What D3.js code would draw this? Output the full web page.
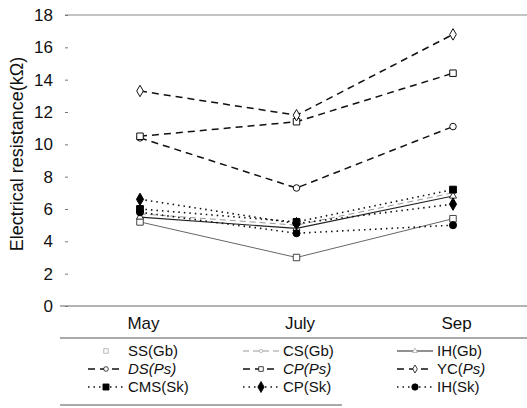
<!DOCTYPE html>
<html><head><meta charset="utf-8">
<script src="https://cdn.jsdelivr.net/npm/d3@7"></script>
<style>body{margin:0;background:#fff}svg{display:block}text{font-family:"Liberation Sans",Arial,sans-serif;fill:#111}</style>
</head><body>
<svg id="c" width="527" height="408"></svg>
<script>
const months = ["May", "July", "Sep"];
const yTicks = [0, 2, 4, 6, 8, 10, 12, 14, 16, 18];
const seriesNames = ["SS(Gb)", "CS(Gb)", "IH(Gb)", "DS(Ps)", "CP(Ps)", "YC(Ps)", "CMS(Sk)", "CP(Sk)", "IH(Sk)"];
const ssGb  = [5.2, 3.0, 5.4];
const csGb  = [5.7, 5.0, 7.0];
const ihGb  = [5.5, 4.8, 6.8];
const dsPs  = [10.4, 7.3, 11.1];
const cpPs  = [10.5, 11.4, 14.4];
const ycPs  = [13.3, 11.8, 16.8];
const cmsSk = [6.0, 5.2, 7.2];
const cpSk  = [6.6, 5.1, 6.3];
const ihSk  = [5.8, 4.5, 5.0];
const seriesValues = [ssGb, csGb, ihGb, dsPs, cpPs, ycPs, cmsSk, cpSk, ihSk];

const styles = [
  {stroke:"#555", dash:null, w:0.9, sym:d3.symbolSquare, size:42, fill:"#fff", mstroke:"#444"},
  {stroke:"#999", dash:"6,4", w:1, sym:d3.symbolCircle, size:16, fill:"#fff", mstroke:"#999"},
  {stroke:"#222", dash:null, w:1.1, sym:d3.symbolTriangle, size:22, fill:"#fff", mstroke:"#333"},
  {stroke:"#111", dash:"7,5", w:1.5, sym:d3.symbolCircle, size:34, fill:"#fff", mstroke:"#111"},
  {stroke:"#111", dash:"7,5", w:1.5, sym:d3.symbolSquare, size:42, fill:"#fff", mstroke:"#111"},
  {stroke:"#111", dash:"7,5", w:1.5, sym:d3.symbolDiamond, size:38, fill:"#fff", mstroke:"#111"},
  {stroke:"#111", dash:"1.5,4", w:1.6, sym:d3.symbolSquare, size:46, fill:"#000", mstroke:"#000"},
  {stroke:"#111", dash:"1.5,4", w:1.6, sym:d3.symbolDiamond, size:44, fill:"#000", mstroke:"#000"},
  {stroke:"#111", dash:"1.5,4", w:1.6, sym:d3.symbolCircle, size:40, fill:"#000", mstroke:"#000"}
];

const svg = d3.select("#c");
const x = d3.scalePoint().domain(months).range([140, 453]);
const y = d3.scaleLinear().domain([0, 18]).range([306, 15]);

svg.append("line").attr("x1",65).attr("x2",527).attr("y1",y(18)).attr("y2",y(18)).attr("stroke","#888").attr("stroke-width",1);
svg.append("line").attr("x1",60).attr("x2",527).attr("y1",y(0)).attr("y2",y(0)).attr("stroke","#666").attr("stroke-width",1);
svg.append("line").attr("x1",60).attr("x2",527).attr("y1",338).attr("y2",338).attr("stroke","#555").attr("stroke-width",1);
svg.append("line").attr("x1",60).attr("x2",342).attr("y1",405).attr("y2",405).attr("stroke","#555").attr("stroke-width",1);

const yAxis = d3.axisLeft(y).tickValues(yTicks).tickSize(3).tickPadding(12);
const ga = svg.append("g").attr("transform","translate(68,0)").call(yAxis);
ga.select(".domain").remove();
ga.selectAll(".tick line").attr("stroke","#777");
ga.selectAll(".tick text").style("font-size","17px").attr("fill","#111");

svg.append("text").attr("transform","translate(23,154) rotate(-90)").attr("text-anchor","middle")
  .style("font-size","18px").text("Electrical resistance(kΩ)");

const xAxis = d3.axisBottom(x).tickSize(0).tickPadding(0);
const gx = svg.append("g").attr("transform","translate(3,317)").call(xAxis);
gx.select(".domain").remove();
gx.selectAll(".tick text").style("font-size","17px").attr("fill","#111").attr("dy","0.71em");

const line = d3.line().x((d,i)=>x(months[i])).y(d=>y(d));
seriesValues.forEach((vals, k) => {
  const s = styles[k];
  svg.append("path").datum(vals).attr("d", line).attr("fill","none")
    .attr("stroke", s.stroke).attr("stroke-width", s.w).attr("stroke-dasharray", s.dash);
});
seriesValues.forEach((vals, k) => {
  const s = styles[k];
  svg.append("g").selectAll("path").data(vals).join("path")
    .attr("transform",(d,i)=>`translate(${x(months[i])},${y(d)})`)
    .attr("d", d3.symbol().type(s.sym).size(s.size))
    .attr("fill", s.fill).attr("stroke", s.mstroke).attr("stroke-width", 1);
});

const colX = [88, 243, 397];
const rowY = [351, 369, 387];
const legendText = [
  [["SS(Gb)", false]],
  [["CS(Gb)", false]],
  [["IH(Gb)", false]],
  [["DS(Ps)", true]],
  [["CP(Ps)", true]],
  [["YC(", false], ["Ps)", true]],
  [["CMS(Sk)", false]],
  [["CP(Sk)", false]],
  [["IH(Sk)", false]]
];
seriesNames.forEach((name, k) => {
  const s = styles[k];
  const row = Math.floor(k / 3), col = k % 3;
  const gx0 = colX[col], gy = rowY[row];
  const lg = svg.append("g");
  if (k !== 0) {
    lg.append("line").attr("x1", gx0).attr("x2", gx0 + 36).attr("y1", gy).attr("y2", gy)
      .attr("stroke", s.stroke).attr("stroke-width", s.w).attr("stroke-dasharray", s.dash);
  }
  lg.append("path").attr("transform",`translate(${gx0+18},${gy})`)
    .attr("d", d3.symbol().type(s.sym).size(k < 6 ? s.size*0.5 : s.size*0.8))
    .attr("fill", s.fill).attr("stroke", k < 3 ? "#aaa" : s.mstroke).attr("stroke-width", 0.8);
  const t = lg.append("text").attr("x", gx0 + 40).attr("y", gy).attr("dy","0.35em").style("font-size","15px");
  legendText[k].forEach(([str, it]) => t.append("tspan").text(str).style("font-style", it ? "italic" : "normal"));
});
</script>
</body></html>
